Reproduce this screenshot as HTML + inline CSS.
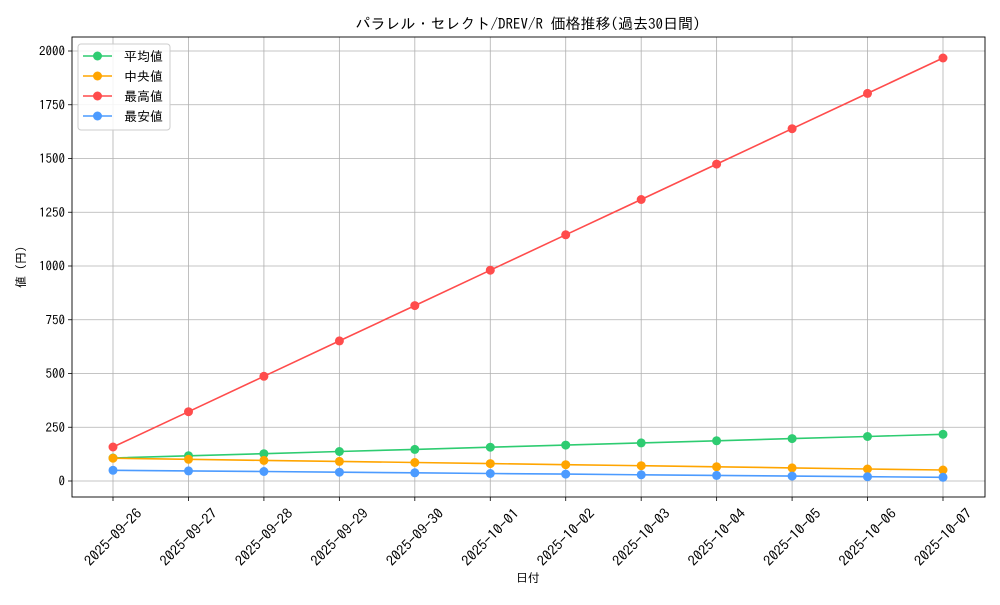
<!DOCTYPE html>
<html><head><meta charset="utf-8"><style>
body{margin:0;background:#fff;}
svg text{font-family:"IPAGothic","Noto Sans CJK JP",sans-serif;fill:#000;}
</style></head><body>
<svg id="s" width="1000" height="600" xmlns="http://www.w3.org/2000/svg"></svg>
<script>
const s=document.getElementById('s');let h='';
const L=72,R=985,T=37,B=497;
const X=i=>113+75.4545*i, Y=v=>481-0.215*v;
const dates=['2025-09-26','2025-09-27','2025-09-28','2025-09-29','2025-09-30','2025-10-01','2025-10-02','2025-10-03','2025-10-04','2025-10-05','2025-10-06','2025-10-07'];
for(let i=0;i<12;i++){const x=X(i);h+=`<line x1="${x}" y1="${T}" x2="${x}" y2="${B}" stroke="#b0b0b0" stroke-width="0.8"/>`;
h+=`<line x1="${x}" y1="${B}" x2="${x}" y2="${B+4}" stroke="#000" stroke-width="0.8"/>`;
h+=`<text transform="translate(${x},${537}) rotate(-45)" text-anchor="middle" dominant-baseline="central" font-size="14" textLength="74" lengthAdjust="spacingAndGlyphs">${dates[i]}</text>`;}
for(let v=0;v<=2000;v+=250){const y=Y(v);h+=`<line x1="${L}" y1="${y}" x2="${R}" y2="${y}" stroke="#b0b0b0" stroke-width="0.8"/>`;
h+=`<line x1="${L-4}" y1="${y}" x2="${L}" y2="${y}" stroke="#000" stroke-width="0.8"/>`;
h+=`<text x="${L-7}" y="${y+4.5}" text-anchor="end" font-size="13">${v}</text>`;}
const ser=[
['#2ecc71',i=>107+10*i],
['#ffa500',i=>106-5*i],
['#ff4c4c',i=>158+164.5*i],
['#4c9bff',i=>50-3*i]];
for(const [c,f] of ser){let p=[];for(let i=0;i<12;i++)p.push(X(i).toFixed(1)+','+Y(f(i)).toFixed(1));
h+=`<polyline points="${p.join(' ')}" fill="none" stroke="${c}" stroke-width="1.6"/>`;
for(const q of p){const [a,b]=q.split(',');h+=`<circle cx="${a}" cy="${b}" r="4.5" fill="${c}"/>`;}}
h+=`<rect x="${L}" y="${T}" width="${R-L}" height="${B-T}" fill="none" stroke="#000" stroke-width="0.9"/>`;
h+=`<rect x="78" y="44" width="92" height="86" rx="3" fill="#fff" fill-opacity="0.85" stroke="#ccc"/>`;
const names=['平均値','中央値','最高値','最安値'];
for(let k=0;k<4;k++){const y=56+20*k;h+=`<line x1="83" y1="${y}" x2="112" y2="${y}" stroke="${ser[k][0]}" stroke-width="1.6"/><circle cx="97.5" cy="${y}" r="4.5" fill="${ser[k][0]}"/>`;
h+=`<text x="124" y="${y+5}" font-size="13">${names[k]}</text>`;}
h+=`<text x="528" y="29" text-anchor="middle" font-size="15">パラレル・セレクト/DREV/R 価格推移(過去30日間)</text>`;
h+=`<text x="528" y="582" text-anchor="middle" font-size="12">日付</text>`;
h+=`<text transform="translate(25,267) rotate(-90)" text-anchor="middle" font-size="12">値 (円)</text>`;
s.innerHTML=h;
</script>
</body></html>
